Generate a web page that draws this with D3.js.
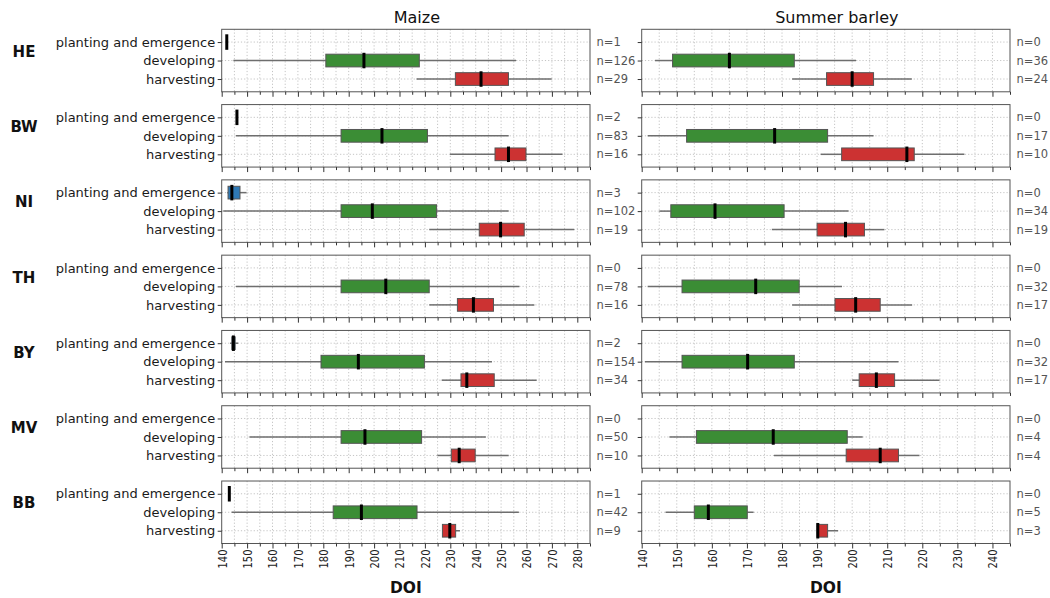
<!DOCTYPE html>
<html>
<head>
<meta charset="utf-8">
<script src="https://cdn.jsdelivr.net/npm/d3@7"></script>
<style>
  body { margin: 0; background: #fff; }
  svg { display: block; font-family: "DejaVu Sans", sans-serif; }
</style>
</head>
<body>
<svg id="chart" width="1050" height="598"></svg>
<script>
// ---------------- DATA ----------------
const states = ["HE", "BW", "NI", "TH", "BY", "MV", "BB"];
const phases = ["planting and emergence", "developing", "harvesting"];
const crops = ["Maize", "Summer barley"];
const maizeTicks = [140, 150, 160, 170, 180, 190, 200, 210, 220, 230, 240, 250, 260, 270, 280];
const barleyTicks = [140, 150, 160, 170, 180, 190, 200, 210, 220, 230, 240];

// box stats: [whisker low, q1, median, q3, whisker high] per state (null = no data)
const maizePlanting = [
  [142, 142, 142, 142, 142],
  [145.8, 145.8, 146, 146.2, 146.2],
  [142.2, 142.5, 144, 147.2, 149.8],
  null,
  [143.3, 144, 144.6, 145.3, 146.5],
  null,
  [143, 143, 143, 143, 143]
];
const maizeDeveloping = [
  [144.6, 181, 196, 217.8, 255.9],
  [145.6, 187, 203.1, 221, 253],
  [140.6, 187, 199.3, 224.6, 253],
  [145.6, 187, 204.6, 221.7, 257.2],
  [141.3, 179.1, 193.8, 219.8, 246.4],
  [150.9, 187, 196.4, 218.7, 244],
  [143.9, 183.9, 195, 216.9, 257]
];
const maizeHarvesting = [
  [216.7, 232, 242.1, 252.9, 269.9],
  [229.9, 247.6, 252.9, 259.8, 274.2],
  [221.7, 241.4, 249.8, 259.1, 278.8],
  [221.7, 232.8, 239.1, 247, 263.1],
  [226.6, 234.2, 236.5, 247.3, 264],
  [224.9, 230.4, 233.5, 239.8, 253],
  [226.9, 226.9, 229.8, 232.1, 233.8]
];
const barleyPlanting = [null, null, null, null, null, null, null];
const barleyDeveloping = [
  [143.8, 148.8, 165, 183.5, 201.1],
  [141.7, 152.8, 177.9, 193, 206.1],
  [145, 148.3, 160.9, 180.6, 199],
  [141.7, 151.5, 172.5, 184.9, 197.1],
  [140.9, 151.5, 170.2, 183.5, 213.2],
  [147.9, 155.6, 177.5, 198.6, 203],
  [146.8, 155, 159, 170.1, 171.9]
];
const barleyHarvesting = [
  [182.9, 192.7, 200, 206.1, 217],
  [191, 197, 215.6, 217.7, 232],
  [177.1, 190, 198.1, 203.5, 209.2],
  [182.9, 195.1, 201, 208, 217.1],
  [200, 202, 206.9, 212.1, 224.9],
  [177.7, 198.3, 208, 213.2, 219.2],
  [190, 190, 190.2, 193, 196]
];
const maizeN = [[1, 126, 29], [2, 83, 16], [3, 102, 19], [0, 78, 16], [2, 154, 34], [0, 50, 10], [1, 42, 9]];
const barleyN = [[0, 36, 24], [0, 17, 10], [0, 34, 19], [0, 32, 17], [0, 32, 17], [0, 4, 4], [0, 5, 3]];
const phaseColors = ["#2f79b5", "#3b8d35", "#cc3232"];

// ---------------- LAYOUT ----------------
const svg = d3.select("#chart");
const panelsX = [
  { x0: 221.7, x1: 590, domain: [140, 285], ticks: maizeTicks,
    stats: [maizePlanting, maizeDeveloping, maizeHarvesting], n: maizeN },
  { x0: 641.7, x1: 1010, domain: [140, 245], ticks: barleyTicks,
    stats: [barleyPlanting, barleyDeveloping, barleyHarvesting], n: barleyN }
];

const yBand = d3.scaleBand().domain(states).range([29.3, 543.5]).paddingInner(0.17).paddingOuter(0);
const boxH = 12.7, medH = 15.5;

panelsX.forEach((P, ci) => {
  const x = d3.scaleLinear().domain(P.domain).range([P.x0, P.x1]);
  const minorTicks = d3.range(P.domain[0], P.domain[1] + 0.01, 5);

  // title
  svg.append("text")
    .attr("x", (P.x0 + P.x1) / 2 + 11).attr("y", 23)
    .attr("text-anchor", "middle").attr("font-size", 16).attr("fill", "#111")
    .text(crops[ci]);

  states.forEach((st, si) => {
    const top = yBand(st), h = yBand.bandwidth();
    const y = d3.scalePoint().domain(phases).range([top, top + h]).padding(0.69);
    const g = svg.append("g");

    // grid
    g.selectAll(".vg").data(minorTicks.filter(t => t > P.domain[0] && t < P.domain[1])).join("line")
      .attr("x1", d => x(d)).attr("x2", d => x(d)).attr("y1", top).attr("y2", top + h)
      .attr("stroke", "#c4c4c4").attr("stroke-width", 1).attr("stroke-dasharray", "1.2,2");
    g.selectAll(".hg").data(phases).join("line")
      .attr("x1", P.x0).attr("x2", P.x1).attr("y1", d => y(d)).attr("y2", d => y(d))
      .attr("stroke", "#c4c4c4").attr("stroke-width", 1).attr("stroke-dasharray", "1.2,2");

    // boxes
    phases.forEach((ph, pi) => {
      const s = P.stats[pi][si];
      if (!s) return;
      const cy = y(ph);
      g.append("line").attr("x1", x(s[0])).attr("x2", x(s[1])).attr("y1", cy).attr("y2", cy)
        .attr("stroke", "#6e6e6e").attr("stroke-width", 1.5);
      g.append("line").attr("x1", x(s[3])).attr("x2", x(s[4])).attr("y1", cy).attr("y2", cy)
        .attr("stroke", "#6e6e6e").attr("stroke-width", 1.5);
      if (s[3] > s[1]) {
        g.append("rect").attr("x", x(s[1])).attr("y", cy - boxH / 2)
          .attr("width", x(s[3]) - x(s[1])).attr("height", boxH)
          .attr("fill", phaseColors[pi]).attr("stroke", "#555").attr("stroke-width", 1);
      }
      g.append("line").attr("x1", x(s[2])).attr("x2", x(s[2]))
        .attr("y1", cy - medH / 2).attr("y2", cy + medH / 2)
        .attr("stroke", "#000").attr("stroke-width", 3);
    });

    // frame
    g.append("rect").attr("x", P.x0).attr("y", top).attr("width", P.x1 - P.x0).attr("height", h)
      .attr("fill", "none").attr("stroke", "#555").attr("stroke-width", 1);

    // x ticks
    const axis = d3.axisBottom(x).tickValues(minorTicks).tickSize(4)
      .tickFormat(d => (si === states.length - 1 && P.ticks.includes(d)) ? d : "");
    const ax = svg.append("g").attr("transform", `translate(0,${top + h})`).call(axis);
    ax.select(".domain").remove();
    ax.selectAll(".tick line").attr("stroke", "#333")
      .attr("y2", d => P.ticks.includes(d) ? 5 : 3);
    ax.selectAll(".tick text")
      .attr("font-family", "DejaVu Sans, sans-serif").attr("font-size", 12.5).attr("fill", "#222")
      .attr("transform", "rotate(-90)").attr("text-anchor", "end")
      .attr("x", -6).attr("y", 0).attr("dy", "0.35em")
      .attr("textLength", 19).attr("lengthAdjust", "spacingAndGlyphs");

    // y ticks (left)
    const yax = d3.axisLeft(y).tickSize(4).tickFormat(ci === 0 ? (d => d) : "");
    const ya = svg.append("g").attr("transform", `translate(${P.x0},0)`).call(yax);
    ya.select(".domain").remove();
    ya.selectAll(".tick line").attr("stroke", "#333");
    ya.selectAll(".tick text")
      .attr("font-family", "DejaVu Sans, sans-serif").attr("font-size", 13).attr("fill", "#1a1a1a")
      .attr("x", -6.5);

    // n labels
    svg.append("g").selectAll("text").data(phases).join("text")
      .attr("x", P.x1 + 6.5).attr("y", d => y(d)).attr("dy", "0.36em")
      .attr("font-size", 11.5).attr("fill", "#555")
      .text((d, pi) => "n=" + P.n[si][pi]);

    // state label
    if (ci === 0) {
      svg.append("text").attr("x", 24).attr("y", (y(phases[0]) + y(phases[1])) / 2)
        .attr("dy", "0.36em").attr("text-anchor", "middle")
        .attr("font-size", 15).attr("font-weight", "bold").attr("fill", "#111")
        .text(st);
    }
  });

  // x label
  svg.append("text").attr("x", (P.x0 + P.x1) / 2).attr("y", 593)
    .attr("text-anchor", "middle").attr("font-size", 15.5).attr("font-weight", "bold").attr("fill", "#111")
    .text("DOI");
});
</script>
</body>
</html>
